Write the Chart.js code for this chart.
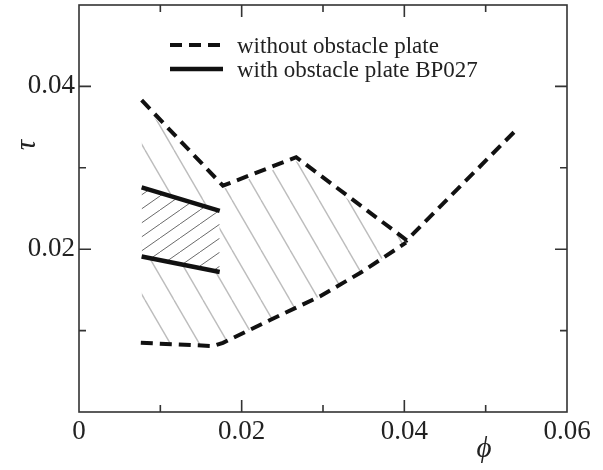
<!DOCTYPE html>
<html>
<head>
<meta charset="utf-8">
<script src="https://cdn.jsdelivr.net/npm/chart.js@4.4.1/dist/chart.umd.min.js"></script>
<style>
body { margin: 0; background: #fff; }
#wrap { width: 603px; height: 470px; }
</style>
</head>
<body>
<div id="wrap"><canvas id="myChart"></canvas></div>
<script>
// dashed line, upper branch (without obstacle plate)
const phiUpper = [0.0077, 0.0177, 0.0267, 0.0403, 0.0540]
const tauUpper = [0.0383, 0.0278, 0.0313, 0.0211, 0.0349]
// dashed line, lower branch
const phiLower = [0.0076, 0.0165, 0.0177, 0.0235, 0.0296, 0.0346, 0.0402]
const tauLower = [0.0085, 0.0081, 0.0085, 0.0113, 0.0142, 0.0171, 0.0208]
// with obstacle plate BP027
const phiPlate = [0.0077, 0.0173]
const tauPlateUpper = [0.0276, 0.0247]
const tauPlateLower = [0.0191, 0.0172]
// top edge of the grey hatched band
const phiHatch = [0.0077, 0.0177, 0.0267, 0.0401]
const tauHatch = [0.0378, 0.0274, 0.0308, 0.0210]

const xLabels = [0, 0.02, 0.04, 0.06]
const yLabels = [0.02, 0.04]

const serif = '"Liberation Serif", "DejaVu Serif", serif'

function pts(xs, ys){
    return xs.map((x, i) => ({x: x, y: ys[i]}))
}

function hatch(w, h, color, width, back, up){
    const c = document.createElement('canvas')
    c.width = w
    c.height = h
    const g = c.getContext('2d')
    if(back){
        g.fillStyle = back
        g.fillRect(0, 0, w, h)
    }
    g.strokeStyle = color
    g.lineWidth = width
    for (let k = -1; k <= 1; k++){
        g.beginPath()
        if(up){
            g.moveTo(k * w, h)
            g.lineTo(k * w + w, 0)
        }else{
            g.moveTo(k * w, 0)
            g.lineTo(k * w + w, h)
        }
        g.stroke()
    }
    return g.createPattern(c, 'repeat')
}

function labelFor(list){
    return v => list.some(t => Math.abs(t - v) < 1e-9) ? String(+v.toFixed(2)) : ''
}

// inward ticks on four sides, frame, legend and axis symbols
const framePlugin = {
    id: 'frame',
    afterDraw(chart){
        const {ctx, chartArea: a} = chart
        const sx = chart.scales.x, sy = chart.scales.y
        ctx.save()
        ctx.strokeStyle = '#333'
        ctx.lineWidth = 1.6
        ctx.strokeRect(a.left, a.top, a.right - a.left, a.bottom - a.top)
        ctx.beginPath()
        sx.ticks.forEach(t => {
            const px = sx.getPixelForValue(t.value)
            if(px <= a.left + 1 || px >= a.right - 1) return
            const len = Math.round(t.value * 100) % 2 === 0 ? 12 : 7
            ctx.moveTo(px, a.bottom); ctx.lineTo(px, a.bottom - len)
            ctx.moveTo(px, a.top); ctx.lineTo(px, a.top + len)
        })
        sy.ticks.forEach(t => {
            const py = sy.getPixelForValue(t.value)
            if(py >= a.bottom - 1 || py <= a.top + 1) return
            const len = Math.round(t.value * 100) % 2 === 0 ? 12 : 7
            ctx.moveTo(a.left, py); ctx.lineTo(a.left + len, py)
            ctx.moveTo(a.right, py); ctx.lineTo(a.right - len, py)
        })
        ctx.stroke()

        // legend
        let row = 0
        chart.data.datasets.forEach(ds => {
            if(!ds.label) return
            const ly = a.top + 40 + row * 24
            ctx.beginPath()
            ctx.strokeStyle = ds.borderColor
            ctx.lineWidth = ds.borderWidth
            ctx.setLineDash(ds.borderDash || [])
            ctx.moveTo(a.left + 91, ly)
            ctx.lineTo(a.left + 144, ly)
            ctx.stroke()
            ctx.setLineDash([])
            ctx.fillStyle = '#222'
            ctx.font = '23px ' + serif
            ctx.textAlign = 'left'
            ctx.textBaseline = 'alphabetic'
            ctx.fillText(ds.label, a.left + 158, ly + 7.5)
            row++
        })

        // axis symbols
        ctx.fillStyle = '#222'
        ctx.font = 'italic 29px ' + serif
        ctx.textAlign = 'center'
        ctx.textBaseline = 'middle'
        ctx.fillText('\u03D5', sx.getPixelForValue(0.0498), a.bottom + 37)
        ctx.translate(a.left - 52, sy.getPixelForValue(0.0328))
        ctx.rotate(-Math.PI / 2)
        ctx.fillText('\u03C4', 0, 0)
        ctx.restore()
    }
}

const fine = hatch(20, 14, '#6a6a6a', 1, '#ffffff', true)
const grey = hatch(29, 50, '#bdbdbd', 1.4, null, false)
const none = 'rgba(0,0,0,0)'

new Chart('myChart', {
    type: 'line',
    data: {
        datasets: [
            {label: 'without obstacle plate', data: pts(phiUpper, tauUpper), borderColor: '#111', borderWidth: 4, borderDash: [12, 7]},
            {data: pts(phiLower, tauLower), borderColor: '#111', borderWidth: 4, borderDash: [12, 7]},
            {label: 'with obstacle plate BP027', data: pts(phiPlate, tauPlateUpper), borderColor: '#111', borderWidth: 4.5},
            {data: pts(phiPlate, tauPlateLower), borderColor: '#111', borderWidth: 4.5},
            {data: pts(phiPlate, tauPlateUpper), borderColor: none, borderWidth: 1, fill: 3, backgroundColor: fine},
            {data: pts(phiHatch, tauHatch), borderColor: none, borderWidth: 1, fill: 1, backgroundColor: grey}
        ]
    },
    options: {
        responsive: true,
        maintainAspectRatio: false,
        animation: false,
        layout: {padding: {top: 5, right: 36, left: 0, bottom: 0}},
        elements: {point: {radius: 0, hoverRadius: 0}, line: {tension: 0}},
        plugins: {legend: {display: false}, tooltip: {enabled: false}},
        scales: {
            x: {
                type: 'linear', min: 0, max: 0.06,
                grid: {display: false, drawTicks: false},
                border: {display: false},
                ticks: {stepSize: 0.01, autoSkip: false, maxRotation: 0, padding: 4,
                        color: '#222', font: {family: serif, size: 27}, callback: labelFor(xLabels)},
                afterFit: s => { s.height = 58; s.paddingLeft = 0; s.paddingRight = 0 }
            },
            y: {
                type: 'linear', min: 0, max: 0.05,
                grid: {display: false, drawTicks: false},
                border: {display: false},
                ticks: {stepSize: 0.01, autoSkip: false, padding: 4,
                        color: '#222', font: {family: serif, size: 27}, callback: labelFor(yLabels)},
                afterFit: s => { s.width = 79; s.paddingTop = 0; s.paddingBottom = 0 }
            }
        }
    },
    plugins: [framePlugin]
})
</script>
</body>
</html>
